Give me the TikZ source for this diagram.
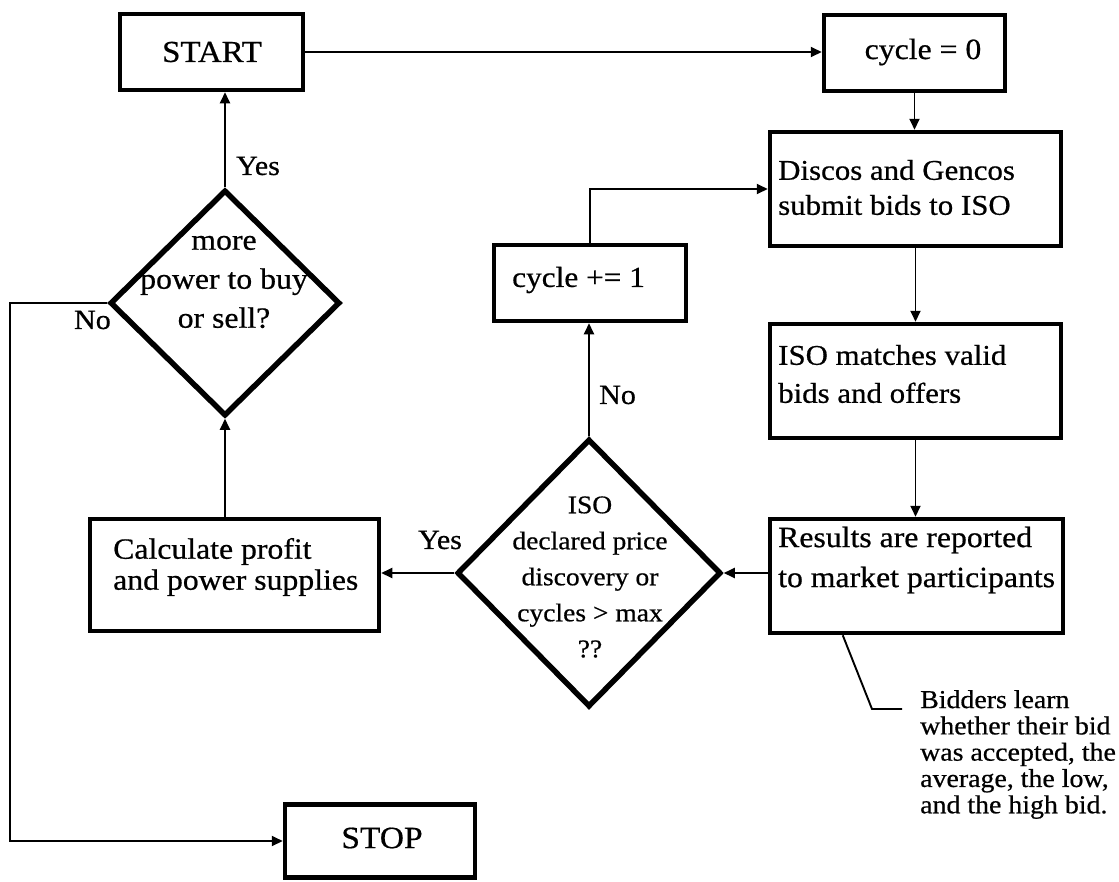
\documentclass[tikz,border=0pt]{standalone}
\usepackage{fontspec}
\setmainfont{Liberation Serif}[FakeStretch=1.08, FakeBold=0.6]
\usetikzlibrary{arrows.meta,shapes.geometric}
\begin{document}
\begin{tikzpicture}[x=1pt,y=-1pt,
  box/.style={draw, line width=4.5pt, rectangle, inner sep=0pt},
  dia/.style={draw, line width=5.5pt, diamond, inner sep=0pt},
  txt/.style={inner sep=0pt, align=left},
  arr/.style={line width=1.9pt, -{Triangle[length=11pt,width=10pt]}},
  wire/.style={line width=1.9pt},
  lbl/.style={inner sep=0pt, font=\fontsize{27.8}{30}\selectfont}]

% page
\fill[white] (0,0) rectangle (1119,881);
\useasboundingbox (0,0) rectangle (1119,881);

% process boxes
\node[box, minimum width=183, minimum height=76] (start) at (211.5,52) {};
\node[box, minimum width=181, minimum height=76] (c0) at (914.5,53) {};
\node[box, minimum width=291, minimum height=114] (discos) at (915.5,189) {};
\node[box, minimum width=291, minimum height=114] (match) at (915.5,381) {};
\node[box, minimum width=293, minimum height=114] (results) at (916.5,576) {};
\node[box, minimum width=289, minimum height=112] (calc) at (234.5,575) {};
\node[box, minimum width=192, minimum height=76] (inc) at (590,283) {};
\node[box, minimum width=190, minimum height=73] (stop) at (380,841) {};

% decisions
\node[dia, minimum width=230, minimum height=226] (q1) at (225,303) {};
\node[dia, minimum width=264, minimum height=268] (q2) at (589,573) {};

% box texts
\node[txt, font=\fontsize{30.5}{32}\selectfont] (start-t) at (212,52) {START};
\node[txt, font=\fontsize{29.4}{32}\selectfont] (c0-t) at (923,52) {cycle = 0};
\node[txt, anchor=west, font=\fontsize{28.6}{35}\selectfont] (discos-t) at (778,187.5)
  {Discos and Gencos\\submit bids to ISO};
\node[txt, anchor=west, font=\fontsize{28.6}{38}\selectfont] (match-t) at (778,374)
  {ISO matches valid\\bids and offers};
\node[txt, anchor=west, font=\fontsize{29.4}{40}\selectfont] (results-t) at (778,560)
  {Results are reported\\to market participants};
\node[txt, anchor=west, font=\fontsize{29.4}{31}\selectfont] (calc-t) at (113,567)
  {Calculate profit\\and power supplies};
\node[txt, anchor=west, font=\fontsize{29}{32}\selectfont] (inc-t) at (512,280) {cycle += 1};
\node[txt, font=\fontsize{31}{32}\selectfont] (stop-t) at (382,838) {STOP};

% decision texts
\node[txt, align=center, font=\fontsize{29.4}{39}\selectfont] (q1-t) at (224,282)
  {more\\power to buy\\or sell?};
\node[txt, align=center, font=\fontsize{25.5}{36}\selectfont] (q2-t) at (590,577)
  {ISO\\declared price\\discovery or\\cycles > max\\??};

% flow
\draw[arr] (start.east) -- (start.east -| c0.west);
\draw[arr] (c0.south) -- (c0.south |- discos.north);
\draw[arr] (discos.south) -- (discos.south |- match.north);
\draw[arr] (match.south) -- (match.south |- results.north);
\draw[arr] (q2.east -| results.west) -- (q2.east);
\draw[arr] (q2.west) -- (q2.west -| calc.east);
\draw[arr] (q2.north) -- (q2.north |- inc.south);
\draw[arr] (inc.north) |- (discos.west);
\draw[arr] (q1.south |- calc.north) -- (q1.south);
\draw[arr] (q1.north) -- (q1.north |- start.south);
\coordinate (bend) at (10,303);
\draw[arr] (q1.west) -- (bend) |- (stop.west);

% branch labels
\node[lbl, anchor=west] (yes1) at (236,166) {Yes};
\node[lbl, anchor=east] (no1) at (111,320) {No};
\node[lbl, anchor=west] (no2) at (599,395) {No};
\node[lbl, anchor=west] (yes2) at (418,540) {Yes};

% callout
\coordinate (knee) at (872,709);
\coordinate (tail) at (902,709);
\draw[wire] ([xshift=75pt]results.south west) -- (knee) -- (tail);
\node[txt, anchor=west, font=\fontsize{25.8}{26.3}\selectfont] (note) at (920,754.5)
  {Bidders learn\\whether their bid\\was accepted, the\\average, the low,\\and the high bid.};
\end{tikzpicture}
\end{document}
